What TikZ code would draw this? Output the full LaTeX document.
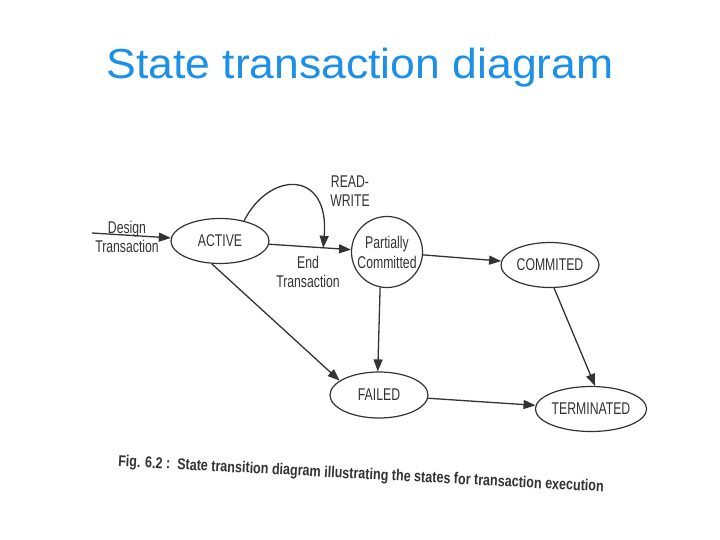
\documentclass[tikz,border=0pt]{standalone}
\usepackage{fontspec}
\setmainfont{Liberation Sans}
\newfontfamily\titlefont[FakeStretch=1.06]{Liberation Sans}
\newfontfamily\narrowfont[FakeStretch=0.72]{Liberation Sans}
\newfontfamily\capfont[FakeStretch=0.8]{Liberation Sans}
\definecolor{TitleBlue}{HTML}{1C8FE6}
\definecolor{InkGray}{HTML}{333333}
\usetikzlibrary{arrows.meta, shapes.geometric, positioning}

\begin{document}
\begin{tikzpicture}[x=1pt, y=-1pt,
      state/.style={ellipse, draw=InkGray, line width=1.2pt, minimum width=98pt,
                    minimum height=45pt, inner sep=0pt, align=center,
                    font=\narrowfont\fontsize{17}{20}\selectfont, text=InkGray},
      pstate/.style={circle, draw=InkGray, line width=1.2pt, minimum size=71pt,
                     inner sep=0pt, align=center,
                     font=\narrowfont\fontsize{17}{20}\selectfont, text=InkGray},
      lbl/.style={align=center, font=\narrowfont\fontsize{17}{19}\selectfont, text=InkGray},
      arr/.style={-{Triangle[length=12pt,width=9pt]}, InkGray, line width=1.3pt}]
      \useasboundingbox (0,0) rectangle (720,540);
      % Title
      \node[font=\titlefont\fontsize{42}{46}\selectfont, text=TitleBlue] (title) at (360,68) {State transaction diagram};
      % States
      \node[state] (act) at (220,241) {ACTIVE};
      \node[pstate] (pc) at (387,252) {Partially\\Committed};
      \node[state] (com) at (550,265) {COMMITED};
      \node[state, minimum height=46pt] (fail) at (379,395) {FAILED};
      \node[state] (term) at (591,409) {TERMINATED};
      % Entry
      \coordinate (start) at (92,233);
      \draw[arr] (start) -- (act);
      \node[lbl] (design) at (127,237) {Design\\Transaction};
      % Transitions
      \draw[arr] (act) -- (pc) coordinate[pos=0.66] (rw);
      \node[lbl] (endtr) at (308,272) {End\\Transaction};
      \draw[arr] (act.40) .. controls (270,170) and (330,170) .. (rw);
      \node[lbl] (readw) at (350,191) {READ-\\WRITE};
      \draw[arr] (pc) -- (com);
      \draw[arr] (pc.259) -- (fail.93);
      \draw[arr] (act.250) -- (fail.160);
      \draw[arr] (com.280) -- (term.80);
      \draw[arr] (fail) -- (term);
      % Caption
      \node[font=\capfont\bfseries\fontsize{15.7}{18}\selectfont, text=InkGray, rotate=-3] (cap) at (361,475)
         {Fig. 6.2 :\ \ State transition diagram illustrating the states for transaction execution};
   \end{tikzpicture}
\end{document}
